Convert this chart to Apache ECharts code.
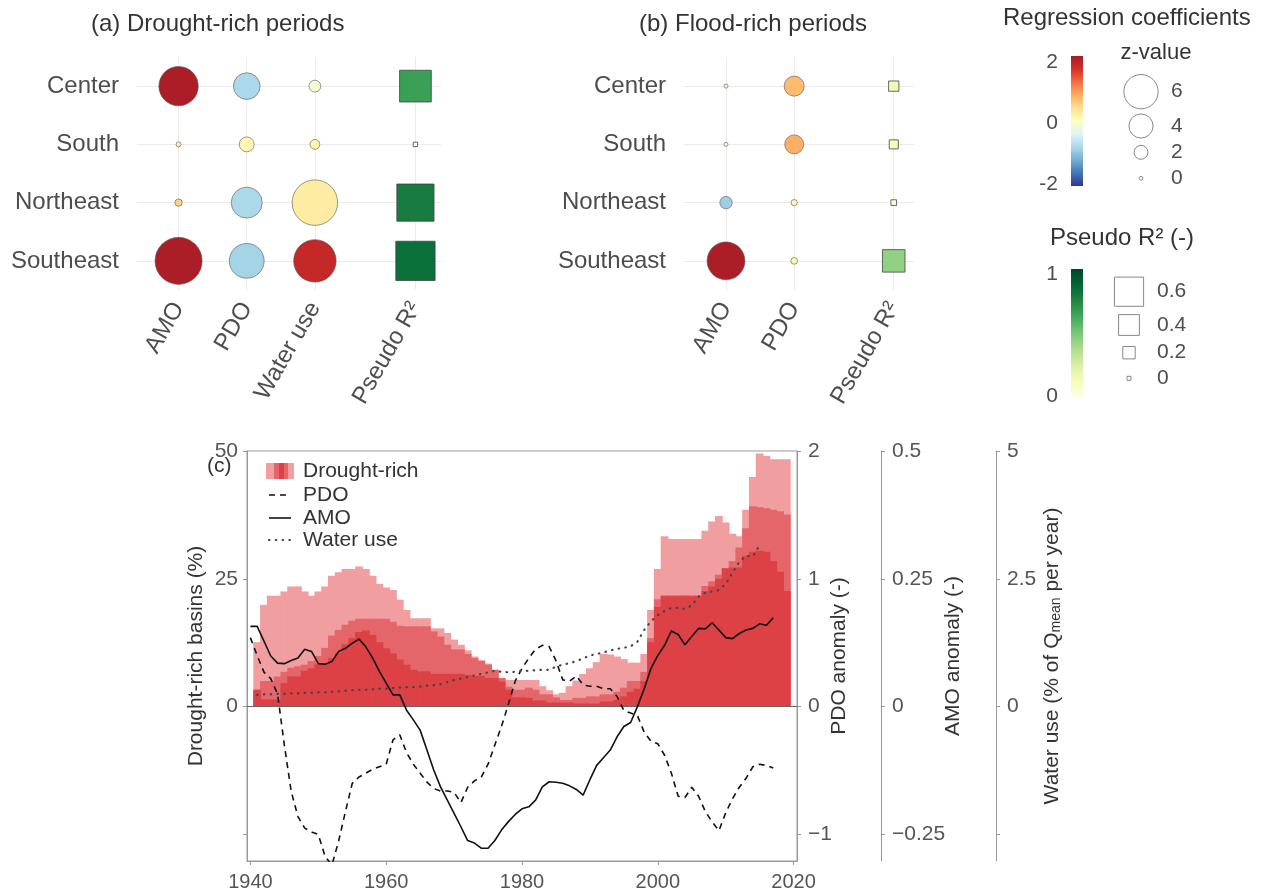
<!DOCTYPE html>
<html><head><meta charset="utf-8">
<script src="https://cdn.jsdelivr.net/npm/echarts@6.0.0/dist/echarts.min.js"></script>
<style>html,body{margin:0;padding:0;background:#fff}#c{width:1268px;height:892px}</style>
</head><body><div id="c"></div>
<script>
// ---------------- DATA: panels (a) and (b) ----------------
const regions = ['Center', 'South', 'Northeast', 'Southeast'];
const droughtPredictors = ['AMO', 'PDO', 'Water use'];
const floodPredictors = ['AMO', 'PDO'];
// regression coefficients [predictor][region]
const droughtCoef = [
  [1.95, 0.2, 0.5, 1.95],
  [-0.8, 0.1, -0.8, -0.85],
  [-0.15, 0.15, 0.25, 1.75]
];
// z-values [predictor][region]
const droughtZ = [
  [7.0, 0.25, 0.7, 8.5],
  [4.5, 2.2, 5.35, 6.1],
  [1.6, 1.2, 8.2, 7.6]
];
const droughtR2 = [0.66, 0.01, 0.79, 0.84];
const floodCoef = [
  [0.1, 0.1, -0.9, 1.95],
  [0.7, 0.78, 0.1, 0.1]
];
const floodZ = [
  [0.06, 0.06, 1.7, 6.7],
  [3.2, 3.0, 0.5, 0.6]
];
const floodR2 = [0.15, 0.12, 0.04, 0.44];
const zLegendValues = [6, 4, 2, 0];
const r2LegendValues = [0.6, 0.4, 0.2, 0];

// ---------------- DATA: panel (c) ----------------
const barFirstYear = 1941;   // bars 1941-2019
const lineFirstYear = 1940;  // PDO / AMO 1940-2017
const waterFirstYear = 1941; // water use 1941-2015
const droughtLight = [12.6,19.9,21.7,21.7,22.5,23.5,23.5,22.5,21.7,22.5,
  23.5,25.6,26.3,26.9,26.9,27.4,26.9,25.6,24.0,23.3,
  22.8,20.9,18.9,17.3,17.3,17.3,15.3,15.3,14.4,13.1,
  12.1,11.0,9.8,9.0,8.4,7.2,5.6,5.2,5.2,5.2,
  5.2,5.2,4.0,3.2,2.4,2.7,4.0,5.1,6.4,7.5,
  8.7,10.3,10.2,9.8,9.3,8.6,8.6,10.3,18.9,26.9,
  33.3,32.8,32.8,32.8,32.8,32.8,34.4,36.2,37.3,36.0,
  33.8,33.3,38.5,44.9,49.5,49.0,48.4,48.4,48.4];
const droughtMedium = [3.3,5.0,5.0,5.9,6.8,7.6,7.9,8.2,8.9,9.9,
  11.5,13.9,15.0,16.0,16.8,17.2,17.2,17.2,17.2,17.2,
  16.6,15.8,15.7,15.7,15.7,15.7,14.7,13.7,12.1,11.2,
  11.2,10.3,9.5,9.0,8.2,7.2,5.6,3.9,3.3,3.3,
  3.7,3.3,2.4,2.4,1.8,1.3,1.3,1.7,1.7,2.0,
  2.0,2.4,2.4,2.9,3.7,5.0,5.0,6.8,13.4,21.0,
  21.8,21.8,21.8,21.8,21.8,21.8,23.6,24.5,25.8,27.1,
  28.5,31.1,34.9,39.2,39.0,38.8,38.5,38.2,37.6];
const droughtDark = [3.3,1.4,1.4,1.4,4.6,5.9,5.9,7.0,7.5,8.3,
  8.5,9.5,10.5,12.2,13.4,14.6,14.9,14.0,12.6,11.4,
  10.4,9.2,8.2,7.2,6.9,6.9,6.4,6.4,6.4,6.4,
  6.4,6.2,6.0,6.0,5.6,5.6,4.9,3.3,1.8,1.8,
  1.7,1.2,1.2,0.8,0.8,0.8,0.8,0.6,0.6,0.6,
  0.6,1.0,1.0,1.3,2.0,2.9,3.5,5.0,12.6,19.5,
  21.6,21.6,21.6,21.6,21.6,21.6,22.6,23.5,25.0,27.0,
  27.2,27.2,29.5,30.3,30.5,30.3,28.5,26.4,22.6];
const pdo = [0.54,0.40,0.27,0.22,0.10,-0.30,-0.66,-0.86,-0.95,-0.98,
  -1.00,-1.17,-1.24,-1.05,-0.82,-0.60,-0.55,-0.52,-0.49,-0.47,
  -0.45,-0.26,-0.22,-0.36,-0.45,-0.52,-0.59,-0.64,-0.66,-0.66,
  -0.67,-0.75,-0.63,-0.58,-0.55,-0.45,-0.30,-0.15,0.02,0.20,
  0.30,0.38,0.45,0.48,0.47,0.36,0.21,0.20,0.24,0.17,
  0.16,0.16,0.14,0.14,0.08,-0.03,-0.05,-0.07,-0.20,-0.27,
  -0.29,-0.38,-0.52,-0.70,-0.71,-0.63,-0.70,-0.82,-0.90,-0.97,
  -0.83,-0.72,-0.63,-0.56,-0.47,-0.45,-0.46,-0.48];
const amo = [0.157,0.157,0.128,0.099,0.085,0.084,0.090,0.095,0.112,0.108,
  0.084,0.083,0.088,0.108,0.114,0.124,0.132,0.117,0.095,0.069,
  0.046,0.023,0.023,-0.007,-0.026,-0.046,-0.085,-0.124,-0.157,-0.183,
  -0.209,-0.235,-0.262,-0.267,-0.277,-0.277,-0.262,-0.241,-0.225,-0.211,
  -0.200,-0.196,-0.183,-0.157,-0.147,-0.148,-0.150,-0.155,-0.162,-0.173,
  -0.143,-0.115,-0.100,-0.085,-0.059,-0.039,-0.031,0.000,0.035,0.075,
  0.100,0.120,0.148,0.141,0.121,0.137,0.153,0.152,0.164,0.150,
  0.135,0.133,0.143,0.150,0.153,0.162,0.159,0.174];
const waterUse = [0.23,0.24,0.24,0.25,0.25,0.26,0.26,0.27,0.27,0.28,
  0.28,0.29,0.30,0.31,0.32,0.33,0.33,0.34,0.35,0.35,
  0.36,0.37,0.38,0.38,0.39,0.41,0.42,0.44,0.48,0.52,
  0.55,0.58,0.61,0.64,0.67,0.70,0.68,0.67,0.68,0.70,
  0.70,0.71,0.72,0.72,0.78,0.82,0.85,0.89,0.94,1.00,
  1.03,1.06,1.10,1.13,1.15,1.18,1.27,1.50,1.67,1.79,
  1.87,1.93,1.93,1.91,1.98,2.15,2.23,2.25,2.28,2.40,
  2.62,2.83,2.95,2.94,3.16];
const yearTicks = [1940, 1960, 1980, 2000, 2020];

// ---------------- STYLE / LAYOUT ----------------
const FONT = '"Liberation Sans", Arial, Helvetica, sans-serif';
const RdYlBu = ['#313695','#4575b4','#74add1','#abd9e9','#e0f3f8','#ffffbf','#fee090','#fdae61','#f46d43','#d73027','#a51b27'];
const YlGn = ['#ffffe5','#f7fcb9','#d9f0a3','#addd8e','#78c679','#41ab5d','#238443','#006837','#004529'];
const circleSize = z => 3.7 + 5.1 * z;
const squareSize = r => 4 + 42 * r;
const colPosA = [1, 2, 3], r2PosA = 4.475;
const colPosB = [1, 2], r2PosB = 3.46;
const rowPos = i => regions.length - i;
const minus = v => (v < 0 ? '\u2212' + String(-v) : String(v));

function coefData(coef, zv, pos) {
  const out = [];
  coef.forEach((row, p) => row.forEach((c, r) => out.push([pos[p], rowPos(r), c, zv[p][r]])));
  return out;
}
function r2Data(r2, pos) { return r2.map((v, r) => [pos, rowPos(r), v]); }
const yearsFrom = (first, n) => Array.from({length: n}, (_, i) => first + i);
const barYears = yearsFrom(barFirstYear, droughtLight.length);
const lineYears = yearsFrom(lineFirstYear, pdo.length);
const waterYears = yearsFrom(waterFirstYear, waterUse.length);

function dotX(grid, min, max, ticks, names) {
  return { gridIndex: grid, type: 'value', min, max,
    axisLine: {show: false, onZero: false}, axisTick: {show: false, customValues: ticks},
    axisLabel: {customValues: ticks, rotate: 60, fontSize: 24, color: '#4d4d4d', fontFamily: FONT, margin: 14,
      formatter: v => { const i = ticks.findIndex(t => Math.abs(t - v) < 1e-6); return i >= 0 ? names[i] : ''; }},
    splitLine: {show: true, lineStyle: {color: '#ebebeb', width: 1}} };
}
function dotY(grid) {
  return { gridIndex: grid, type: 'value', min: 0.5, max: 4.5,
    axisLine: {show: false, onZero: false}, axisTick: {show: false, customValues: [1,2,3,4]},
    axisLabel: {customValues: [1,2,3,4], fontSize: 24, color: '#4d4d4d', fontFamily: FONT, margin: 18,
      formatter: v => regions[regions.length - Math.round(v)]},
    splitLine: {show: true, lineStyle: {color: '#ebebeb', width: 1}} };
}
function rightAxis(offset, min, max, ticks, labels, name, gap) {
  return { gridIndex: 2, type: 'value', position: 'right', offset, min, max,
    axisLine: {show: true, onZero: false, lineStyle: {color: '#999', width: 1}},
    axisTick: {show: true, length: 4, customValues: ticks, lineStyle: {color: '#999'}},
    axisLabel: {customValues: labels, fontSize: 21, color: '#555', fontFamily: FONT, margin: 11, formatter: minus},
    splitLine: {show: false},
    name, nameLocation: 'middle', nameGap: gap, nameRotate: 90, nameMoveOverlap: false,
    nameTextStyle: {fontSize: 21, color: '#333', fontFamily: FONT,
      rich: {sub: {fontSize: 14, color: '#333', fontFamily: FONT, verticalAlign: 'bottom', padding: [0,0,0,0]}}} };
}
const scatterStyle = {borderColor: '#555', borderWidth: 0.6, opacity: 1};
const squareStyle = {borderColor: '#444', borderWidth: 0.8, opacity: 1};
const barSeries = (vals, color) => ({ type: 'bar', xAxisIndex: 2, yAxisIndex: 2, silent: true,
  data: barYears.map((y, i) => [y, vals[i]]), barWidth: 7.8, barGap: '-100%',
  itemStyle: {color, borderWidth: 0} });

// ---------------- GRAPHIC (titles, legends) ----------------
const txt = (text, x, y, size, align, color) => ({ type: 'text', x, y, silent: true,
  style: {text, fill: color || '#333', font: size + 'px ' + FONT, align: align || 'left', verticalAlign: 'middle',
    textAlign: align || 'left', textVerticalAlign: 'middle'} });
const G = [];
G.push(txt('(a) Drought-rich periods', 91, 24, 24));
G.push(txt('(b) Flood-rich periods', 639, 24, 24));
G.push(txt('(c)', 207, 466, 21));
// colour bars
G.push(txt('Regression coefficients', 1003, 18, 24));
G.push({type: 'rect', shape: {x: 1071, y: 56, width: 12, height: 130}, silent: true,
  style: {fill: new echarts.graphic.LinearGradient(0, 0, 0, 1,
    RdYlBu.slice().reverse().map((c, i, a) => ({offset: i / (a.length - 1), color: c})))}});
G.push(txt('2', 1058, 62, 21, 'right', '#4d4d4d'));
G.push(txt('0', 1058, 123, 21, 'right', '#4d4d4d'));
G.push(txt('-2', 1058, 184, 21, 'right', '#4d4d4d'));
G.push(txt('z-value', 1156, 53, 22, 'center'));
[91.7, 126, 152.3, 178.3].forEach((cy, i) => {
  G.push({type: 'circle', silent: true, shape: {cx: 1141, cy, r: circleSize(zLegendValues[i]) / 2},
    style: {fill: '#fff', stroke: '#888', lineWidth: 1}});
  G.push(txt(String(zLegendValues[i]), 1171, cy, 21, 'left', '#4d4d4d'));
});
G.push(txt('Pseudo R\u00b2 (-)', 1050, 238, 24));
G.push({type: 'rect', shape: {x: 1071, y: 269, width: 12, height: 128}, silent: true,
  style: {fill: new echarts.graphic.LinearGradient(0, 0, 0, 1,
    YlGn.slice().reverse().map((c, i, a) => ({offset: i / (a.length - 1), color: c})))}});
G.push(txt('1', 1058, 274, 21, 'right', '#4d4d4d'));
G.push(txt('0', 1058, 396, 21, 'right', '#4d4d4d'));
[291.7, 325, 352.7, 378.3].forEach((cy, i) => {
  const s = squareSize(r2LegendValues[i]);
  G.push({type: 'rect', silent: true, shape: {x: 1129 - s / 2, y: cy - s / 2, width: s, height: s},
    style: {fill: '#fff', stroke: '#888', lineWidth: 1}});
  G.push(txt(String(r2LegendValues[i]), 1157, cy, 21, 'left', '#4d4d4d'));
});
// panel (c) legend
[[266, 8, '#F09EA0'], [274, 5, '#E5666A'], [279, 5, '#DC4145'], [284, 4, '#E5666A'], [288, 6, '#F09EA0']].forEach(([x, w, c]) => {
  G.push({type: 'rect', silent: true, shape: {x, y: 463, width: w, height: 16}, style: {fill: c}});
});
G.push(txt('Drought-rich', 303, 471, 21));
G.push({type: 'line', silent: true, shape: {x1: 269, y1: 495, x2: 291, y2: 495}, style: {stroke: '#111', lineWidth: 1.6, lineDash: [6, 5]}});
G.push(txt('PDO', 303, 495, 21));
G.push({type: 'line', silent: true, shape: {x1: 269, y1: 518, x2: 291, y2: 518}, style: {stroke: '#111', lineWidth: 1.6}});
G.push(txt('AMO', 303, 518, 21));
G.push({type: 'line', silent: true, shape: {x1: 269, y1: 540, x2: 292, y2: 540}, style: {stroke: '#444', lineWidth: 2.2, lineDash: [0.5, 6.3], lineCap: 'round'}});
G.push(txt('Water use', 303, 540, 21));

// ---------------- OPTION ----------------
const option = {
  animation: false,
  backgroundColor: '#fff',
  textStyle: {fontFamily: FONT},
  grid: [
    {left: 137, top: 57, width: 304, height: 233, outerBoundsMode: 'none'},
    {left: 684, top: 57, width: 230, height: 233, outerBoundsMode: 'none'},
    {left: 247, top: 451, width: 550, height: 410, show: true, borderColor: '#999', borderWidth: 1,
      backgroundColor: 'transparent', outerBoundsMode: 'none'}
  ],
  xAxis: [
    dotX(0, 0.39, 4.85, colPosA.concat([r2PosA]), droughtPredictors.concat(['Pseudo R\u00b2'])),
    dotX(1, 0.384, 3.757, colPosB.concat([r2PosB]), floodPredictors.concat(['Pseudo R\u00b2'])),
    { gridIndex: 2, type: 'value', min: 1939.5, max: 2020.5,
      axisLine: {show: true, onZero: false, lineStyle: {color: '#999', width: 1}},
      axisTick: {show: true, length: 4, customValues: yearTicks, lineStyle: {color: '#999'}},
      axisLabel: {customValues: yearTicks, fontSize: 20, color: '#555', fontFamily: FONT, margin: 11, formatter: v => String(v)},
      splitLine: {show: false} }
  ],
  yAxis: [
    dotY(0), dotY(1),
    { gridIndex: 2, type: 'value', position: 'left', min: -30.2, max: 50,
      axisLine: {show: true, onZero: false, lineStyle: {color: '#999', width: 1}},
      axisTick: {show: true, length: 4, customValues: [-25, 0, 25, 50], lineStyle: {color: '#999'}},
      axisLabel: {customValues: [0, 25, 50], fontSize: 21, color: '#555', fontFamily: FONT, margin: 9},
      splitLine: {show: false},
      name: 'Drought-rich basins (%)', nameLocation: 'middle', nameGap: 40, nameRotate: 90, nameMoveOverlap: false,
      nameTextStyle: {fontSize: 21, color: '#333', fontFamily: FONT} },
    rightAxis(0, -1.207, 2, [-1, 0, 1, 2], [-1, 0, 1, 2], 'PDO anomaly (-)', 32),
    rightAxis(84, -0.302, 0.5, [-0.25, 0, 0.25, 0.5], [-0.25, 0, 0.25, 0.5], 'AMO anomaly (-)', 62),
    rightAxis(199, -3.02, 5, [-2.5, 0, 2.5, 5], [0, 2.5, 5], 'Water use (% of Q{sub|mean} per year)', 46)
  ],
  visualMap: [
    {type: 'continuous', show: false, min: -2, max: 2, dimension: 2, seriesIndex: [0, 2], inRange: {color: RdYlBu}},
    {type: 'continuous', show: false, min: 0, max: 1, dimension: 2, seriesIndex: [1, 3], inRange: {color: YlGn}}
  ],
  series: [
    {type: 'scatter', xAxisIndex: 0, yAxisIndex: 0, symbol: 'circle', data: coefData(droughtCoef, droughtZ, colPosA),
      symbolSize: v => circleSize(v[3]), itemStyle: scatterStyle, silent: true},
    {type: 'scatter', xAxisIndex: 0, yAxisIndex: 0, symbol: 'rect', data: r2Data(droughtR2, r2PosA),
      symbolSize: v => squareSize(v[2]), itemStyle: squareStyle, silent: true},
    {type: 'scatter', xAxisIndex: 1, yAxisIndex: 1, symbol: 'circle', data: coefData(floodCoef, floodZ, colPosB),
      symbolSize: v => circleSize(v[3]), itemStyle: scatterStyle, silent: true},
    {type: 'scatter', xAxisIndex: 1, yAxisIndex: 1, symbol: 'rect', data: r2Data(floodR2, r2PosB),
      symbolSize: v => squareSize(v[2]), itemStyle: squareStyle, silent: true},
    barSeries(droughtLight, '#F09EA0'),
    barSeries(droughtMedium, '#E5666A'),
    Object.assign(barSeries(droughtDark, '#DC4145'), {
      markLine: {silent: true, symbol: 'none', label: {show: false}, animation: false,
        lineStyle: {color: '#666', width: 1, type: 'solid'}, data: [{yAxis: 0}]}}),
    {type: 'line', xAxisIndex: 2, yAxisIndex: 3, data: lineYears.map((y, i) => [y, pdo[i]]), symbol: 'none',
      lineStyle: {color: '#111', width: 1.6, type: [6, 5]}, z: 5, silent: true},
    {type: 'line', xAxisIndex: 2, yAxisIndex: 4, data: lineYears.map((y, i) => [y, amo[i]]), symbol: 'none',
      lineStyle: {color: '#111', width: 1.6}, z: 5, silent: true},
    {type: 'line', xAxisIndex: 2, yAxisIndex: 5, data: waterYears.map((y, i) => [y, waterUse[i]]), symbol: 'none',
      lineStyle: {color: '#444', width: 2.2, type: [0.5, 6.3], cap: 'round'}, z: 5, silent: true}
  ],
  graphic: {elements: G}
};
const chart = echarts.init(document.getElementById('c'), null, {renderer: 'canvas'});
chart.setOption(option);
</script></body></html>
